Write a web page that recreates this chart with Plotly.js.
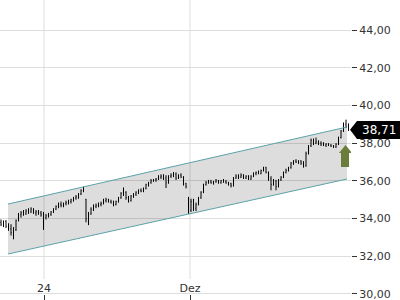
<!DOCTYPE html>
<html><head><meta charset="utf-8">
<script src="https://cdn.plot.ly/plotly-3.0.1.min.js"></script>
<style>html,body{margin:0;padding:0;background:#fff;overflow:hidden;width:400px;height:300px}#chart{width:400px;height:306px}</style>
</head><body><div id="chart"></div><script>
// 30-minute bars (O/H/L/C)
const open = [33.80,33.70,33.85,33.60,33.45,33.25,33.40,33.90,34.20,34.30, 34.25,34.40,34.35,34.50,34.30,34.35,34.30,34.20,34.05,34.15, 34.20,34.35,34.50,34.65,34.75,34.70,34.80,34.85,34.90,35.00, 35.10,35.15,35.30,35.50,35.00,34.00,34.25,34.50,34.65,34.70, 34.75,34.80,34.95,35.00,34.90,34.85,34.75,34.90,35.10,35.35, 35.40,35.10,34.95,35.20,35.30,35.40,35.50,35.45,35.60,35.80, 35.90,36.00,36.05,36.10,36.20,36.25,36.15,35.90,36.25,36.30, 36.35,36.15,36.30,36.20,35.85,35.10,34.45,34.90,34.55,34.75, 35.10,35.40,35.80,35.90,35.95,35.90,35.95,36.00,35.90,36.00, 35.95,35.90,35.85,35.75,36.15,36.25,36.20,36.30,36.15,36.25, 36.10,36.25,36.40,36.45,36.40,36.55,36.70,36.45,36.10,35.80, 36.00,35.70,36.05,36.20,36.45,36.55,36.70,36.95,37.05,37.00, 37.05,36.95,36.80,37.45,37.85,38.15,38.00,38.10,38.00,37.95, 37.90,37.95,37.90,37.85,37.80,37.95,38.30,38.65,39.00,38.90];
const high = [33.95,33.90,33.92,33.75,33.70,33.55,33.95,34.30,34.40,34.45, 34.50,34.55,34.60,34.55,34.45,34.45,34.40,34.35,34.25,34.30, 34.40,34.55,34.70,34.85,34.90,34.85,34.95,35.00,35.05,35.15, 35.25,35.35,35.55,35.70,35.05,34.35,34.60,34.75,34.80,34.85, 34.90,35.05,35.10,35.05,35.00,34.95,34.95,35.15,35.40,35.65, 35.45,35.20,35.25,35.35,35.45,35.55,35.60,35.65,35.85,35.95, 36.10,36.10,36.15,36.30,36.35,36.35,36.30,36.30,36.40,36.47, 36.45,36.35,36.40,36.25,35.90,35.15,35.05,35.05,34.85,35.15, 35.45,35.85,36.00,36.05,36.05,36.00,36.10,36.05,36.05,36.10, 36.05,35.95,35.90,36.20,36.35,36.35,36.40,36.35,36.30,36.30, 36.30,36.45,36.50,36.55,36.60,36.75,36.75,36.50,36.25,36.10, 36.05,36.10,36.25,36.50,36.65,36.75,37.00,37.10,37.15,37.10, 37.10,37.05,37.55,37.90,38.25,38.25,38.30,38.15,38.10,38.05, 38.00,38.00,37.95,37.90,38.00,38.35,38.70,39.10,39.25,39.05];
const low = [33.60,33.55,33.50,33.35,33.10,32.90,33.35,33.85,34.05,34.15, 34.20,34.25,34.30,34.25,34.15,34.20,34.10,33.40,33.95,34.05, 34.15,34.30,34.45,34.55,34.60,34.60,34.70,34.75,34.80,34.90, 35.00,35.05,35.25,35.40,33.80,33.65,34.20,34.40,34.55,34.60, 34.65,34.75,34.85,34.85,34.80,34.65,34.70,34.85,35.05,35.20, 35.00,34.85,34.90,35.10,35.20,35.30,35.40,35.40,35.55,35.70, 35.85,35.95,35.95,36.05,36.10,36.05,35.62,35.85,36.15,36.20, 36.05,36.10,36.15,35.75,35.60,34.25,34.35,34.40,34.40,34.70, 35.05,35.35,35.75,35.85,35.85,35.80,35.90,35.85,35.85,35.90, 35.85,35.75,35.65,35.70,36.10,36.10,36.15,36.10,36.10,36.05, 36.05,36.20,36.30,36.35,36.35,36.50,36.40,36.00,35.50,35.75, 35.50,35.65,36.00,36.15,36.40,36.50,36.65,36.85,36.95,36.90, 36.85,36.70,36.75,37.40,37.80,37.90,37.95,37.90,37.85,37.85, 37.80,37.85,37.80,37.75,37.75,37.90,38.25,38.60,38.80,38.65];
const close = [33.70,33.85,33.60,33.45,33.25,33.40,33.90,34.20,34.30,34.25, 34.40,34.35,34.50,34.30,34.35,34.30,34.20,34.05,34.15,34.20, 34.35,34.50,34.65,34.75,34.70,34.80,34.85,34.90,35.00,35.10, 35.15,35.30,35.50,35.60,34.00,34.25,34.50,34.65,34.70,34.75, 34.80,34.95,35.00,34.90,34.85,34.75,34.90,35.10,35.35,35.40, 35.10,34.95,35.20,35.30,35.40,35.50,35.45,35.60,35.80,35.90, 36.00,36.05,36.10,36.20,36.25,36.15,35.90,36.25,36.30,36.35, 36.15,36.30,36.20,35.85,35.70,34.45,34.90,34.55,34.75,35.10, 35.40,35.80,35.90,35.95,35.90,35.95,36.00,35.90,36.00,35.95, 35.90,35.85,35.75,36.15,36.25,36.20,36.30,36.15,36.25,36.10, 36.25,36.40,36.45,36.40,36.55,36.70,36.45,36.10,35.80,36.00, 35.70,36.05,36.20,36.45,36.55,36.70,36.95,37.05,37.00,37.05, 36.95,36.80,37.45,37.85,38.15,38.00,38.10,38.00,37.95,37.90, 37.95,37.90,37.85,37.80,37.95,38.30,38.65,39.00,38.90,38.71];

// trend channel end points (bar index, price)
const chanX = [2.8, 138.4];
const chanUpper = [34.77, 38.86];
const chanLower = [32.12, 36.10];

// axis ticks
const xTickVals = [17.2, 75.6];
const xTickText = ['24', 'Dez'];
const yTickVals = [30, 32, 34, 36, 38, 40, 42, 44];

const barX = open.map((_, i) => i);
const lastClose = close[close.length - 1];
const FONT = 'DejaVu Sans';

const traces = [
  {type:'scatter', mode:'lines', x:chanX, y:chanLower, line:{color:'#5aa3a8', width:1}, hoverinfo:'skip'},
  {type:'scatter', mode:'lines', x:chanX, y:chanUpper, line:{color:'#5aa3a8', width:1}, fill:'tonexty', fillcolor:'rgba(0,0,0,0.135)', hoverinfo:'skip'},
  {type:'ohlc', x:barX, open:open, high:high, low:low, close:close,
   increasing:{line:{color:'#000', width:1}}, decreasing:{line:{color:'#000', width:1}}, tickwidth:0.2, hoverinfo:'skip'}
];

const shapes = xTickVals.map(v => ({type:'line', xref:'x', yref:'paper', x0:v, x1:v, y0:0.088, y1:1, line:{color:'#dddddd', width:1}, layer:'below'}));
// green up arrow
shapes.push({type:'path', xref:'x', yref:'y', layer:'above',
  path:'M 136.0,36.74 L 136.0,37.48 L 135.2,37.48 L 137.8,37.90 L 140.4,37.48 L 139.2,37.48 L 139.2,36.74 Z',
  fillcolor:'#6b7d3a', line:{width:0}});
// last price label
shapes.push({type:'path', xref:'paper', yref:'y', layer:'above',
  path:'M 0.9972,38.71 L 1.0171,39.175 L 1.1396,39.175 L 1.1396,38.22 L 1.0171,38.22 Z',
  fillcolor:'#000000', line:{width:0}});

const layout = {
  width:400, height:306,
  margin:{l:0, r:49, t:0, b:0, pad:0},
  paper_bgcolor:'#fff', plot_bgcolor:'#fff',
  showlegend:false, hovermode:false,
  separators:',.',
  font:{family:FONT, size:11, color:'#333'},
  xaxis:{range:[-0.4,140], showgrid:false, zeroline:false, showline:false,
    side:'top', anchor:'free', position:0.0392,
    tickmode:'array', tickvals:xTickVals, ticktext:xTickText,
    ticks:'inside', ticklen:6, tickcolor:'#333',
    tickfont:{family:FONT, size:11, color:'#333'}, rangeslider:{visible:false}, fixedrange:true},
  yaxis:{side:'right', range:[29.36,45.6], tickmode:'array', tickvals:yTickVals, tickformat:'.2f',
    ticks:'outside', ticklen:5, tickcolor:'#333', gridcolor:'#dddddd', gridwidth:1, ticklabeloverflow:'allow',
    zeroline:false, showline:false, tickfont:{family:FONT, size:11, color:'#333'}, fixedrange:true},
  shapes:shapes,
  annotations:[{xref:'paper', yref:'y', x:1.0798, y:lastClose, xanchor:'center', yanchor:'middle',
    text:lastClose.toFixed(2).replace('.', ','), showarrow:false, font:{family:FONT, size:12, color:'#fff'}}]
};

Plotly.newPlot('chart', traces, layout, {displayModeBar:false, staticPlot:true});
</script></body></html>
